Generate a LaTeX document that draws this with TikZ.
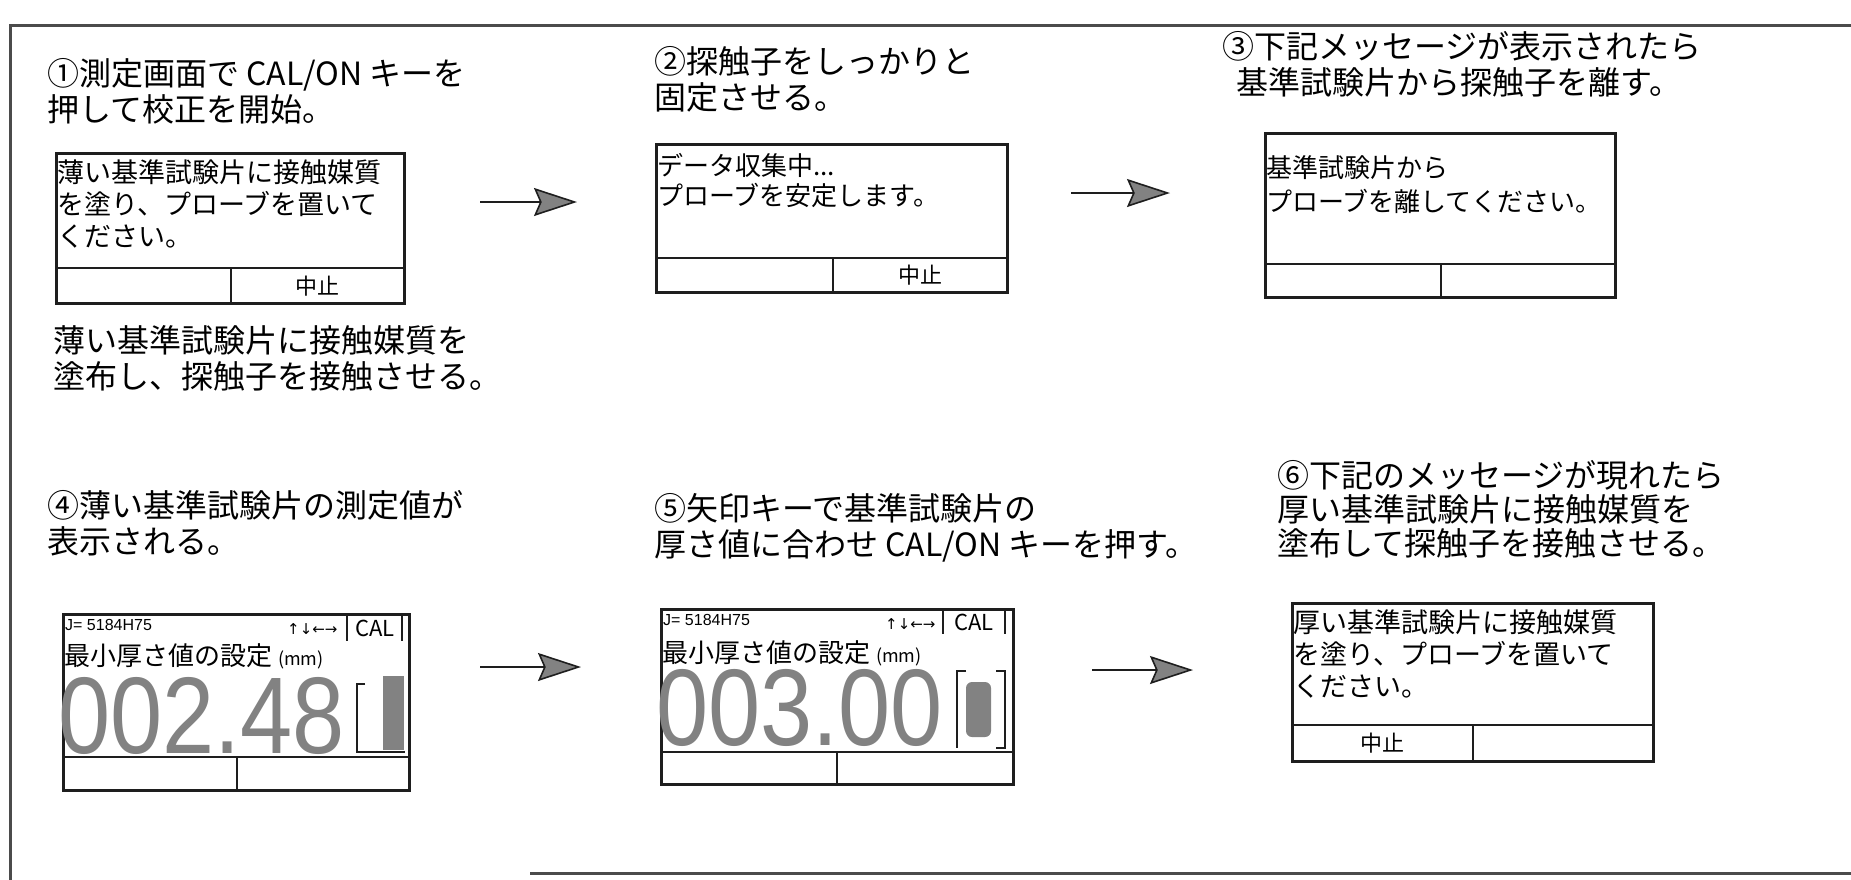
\documentclass[tikz,border=0pt]{standalone}
\usepackage{fontspec}
\usepackage{graphicx}
\setmainfont{Noto Sans CJK JP}
\newfontfamily\lcdnum{Liberation Sans}
\newfontfamily\symfont{DejaVu Sans}
\usetikzlibrary{arrows.meta,positioning,calc}
\definecolor{ink}{HTML}{1E1E1E}
\definecolor{dot}{HTML}{828282}

\begin{document}
\begin{tikzpicture}[x=1pt, y=-1pt,
  stp/.style={font=\fontsize{32}{36}\selectfont, align=left, anchor=base west, inner sep=0pt},
  msg/.style={font=\fontsize{26}{32}\selectfont, align=left, anchor=base west, inner sep=0pt},
  scr/.style={draw=ink, line width=2.6pt, anchor=north west, inner sep=0pt},
  sep/.style={draw=ink, line width=2.4pt},
  key/.style={font=\fontsize{22}{24}\selectfont, inner sep=0pt},
  tiny/.style={font=\lcdnum\fontsize{16}{18}\selectfont, anchor=base west, inner sep=0pt},
  big/.style={font=\lcdnum\fontsize{109}{110}\selectfont, text=dot, anchor=base west, inner sep=0pt, text height=76pt, text depth=0pt},
  go/.style={-{Stealth[length=43pt, width=28pt, inset=6pt, fill=dot]}, draw=ink, line width=1.6pt}]
\useasboundingbox (0,0) rectangle (1851,879);
% outer frame
\draw[ink!80, line width=3pt] (1860,25) -- (10,25) -- (10,882);
\draw[ink!80, line width=3pt] (530,873) -- (1860,873);

% step 1 (multi-line nodes sit on the baseline of their last line)
\node[stp] (t1) at (47,121) {①測定画面で CAL/ON キーを\\押して校正を開始。};
\node[scr, minimum width=348pt, minimum height=150pt] (s1) at (55,152) {};
\draw[sep] (55,268) -- (403,268);
\draw[sep] (231,268) -- (231,302);
\node[msg, font=\fontsize{27}{32}\selectfont] (m1) at (57,246) {薄い基準試験片に接触媒質\\を塗り、プローブを置いて\\ください。};
\node[key] (k1) at (317,286) {中止};
\node[stp] (c1) at (53,388) {薄い基準試験片に接触媒質を\\塗布し、探触子を接触させる。};
\coordinate (a1) at (480,202);
\coordinate (b1) at (577,202);
\draw[go] (a1) -- (b1);

% step 2
\node[stp] (t2) at (654,109) {②探触子をしっかりと\\固定させる。};
\node[scr, minimum width=351pt, minimum height=148pt] (s2) at (655,143) {};
\draw[sep] (655,258) -- (1006,258);
\draw[sep] (833,258) -- (833,291);
\node[msg, font=\fontsize{26}{30}\selectfont] (m2) at (657,205) {データ収集中...\\プローブを安定します。};
\node[key] (k2) at (920,275) {中止};
\coordinate (a2) at (1071,193);
\coordinate (b2) at (1170,193);
\draw[go] (a2) -- (b2);

% step 3
\node[stp] (t3) at (1222,94) {③下記メッセージが表示されたら\\\hspace*{14pt}基準試験片から探触子を離す。};
\node[scr, minimum width=350pt, minimum height=164pt] (s3) at (1264,132) {};
\draw[sep] (1264,264) -- (1614,264);
\draw[sep] (1441,264) -- (1441,296);
\node[msg, font=\fontsize{26}{34}\selectfont] (m3) at (1266,211) {基準試験片から\\プローブを離してください。};

% step 4
\node[stp] (t4) at (47,553) {④薄い基準試験片の測定値が\\表示される。};
\node[scr, minimum width=346pt, minimum height=176pt] (s4) at (62,613) {};
\draw[sep] (62,757) -- (408,757);
\draw[sep] (237,757) -- (237,789);
\node[tiny] (id4) at (65,630) {J= 5184H75};
\node[font=\symfont\fontsize{15}{16}\selectfont, anchor=base west, inner sep=0pt] (ar4) at (287,634) {↑↓←→};
\draw[sep, line width=2pt] (347,613) -- (347,641);
\draw[sep, line width=2pt] (402,613) -- (402,641);
\node[key] (cal4) at (375,628) {CAL};
\node[msg] (h4) at (64,665) {最小厚さ値の設定 {\fontsize{18}{18}\selectfont (mm)}};
\node[big] (v4) at (58,753) {\scalebox{0.86}[1]{002.48}};
\draw[ink, line width=2pt] (365,684) -- (357,684) -- (357,752) -- (405,752);
\fill[dot] (383,676) rectangle (404,750);
\coordinate (a3) at (480,667);
\coordinate (b3) at (581,667);
\draw[go] (a3) -- (b3);

% step 5
\node[stp] (t5) at (654,556) {⑤矢印キーで基準試験片の\\厚さ値に合わせ CAL/ON キーを押す。};
\node[scr, minimum width=352pt, minimum height=175pt] (s5) at (660,608) {};
\draw[sep] (660,752) -- (1012,752);
\draw[sep] (837,752) -- (837,783);
\node[tiny] (id5) at (663,625) {J= 5184H75};
\node[font=\symfont\fontsize{15}{16}\selectfont, anchor=base west, inner sep=0pt] (ar5) at (885,629) {↑↓←→};
\draw[sep, line width=2pt] (943,608) -- (943,634);
\draw[sep, line width=2pt] (1005,608) -- (1005,634);
\node[key] (cal5) at (974,622) {CAL};
\node[msg] (h5) at (662,662) {最小厚さ値の設定 {\fontsize{18}{18}\selectfont (mm)}};
\node[big] (v5) at (656,745) {\scalebox{0.86}[1]{003.00}};
\draw[ink, line width=2pt] (966,671) -- (957,671) -- (957,748);
\draw[ink, line width=2pt] (996,671) -- (1005,671) -- (1005,748) -- (996,748);
\fill[dot, rounded corners=6pt] (966,682) rectangle (991,737);
\coordinate (a4) at (1092,670);
\coordinate (b4) at (1193,670);
\draw[go] (a4) -- (b4);

% step 6
\node[stp, font=\fontsize{32}{34}\selectfont] (t6) at (1277,555) {⑥下記のメッセージが現れたら\\厚い基準試験片に接触媒質を\\塗布して探触子を接触させる。};
\node[scr, minimum width=361pt, minimum height=158pt] (s6) at (1291,602) {};
\draw[sep] (1291,725) -- (1652,725);
\draw[sep] (1473,725) -- (1473,760);
\node[msg, font=\fontsize{27}{32}\selectfont] (m6) at (1293,696) {厚い基準試験片に接触媒質\\を塗り、プローブを置いて\\ください。};
\node[key] (k6) at (1382,743) {中止};
\end{tikzpicture}
\end{document}
